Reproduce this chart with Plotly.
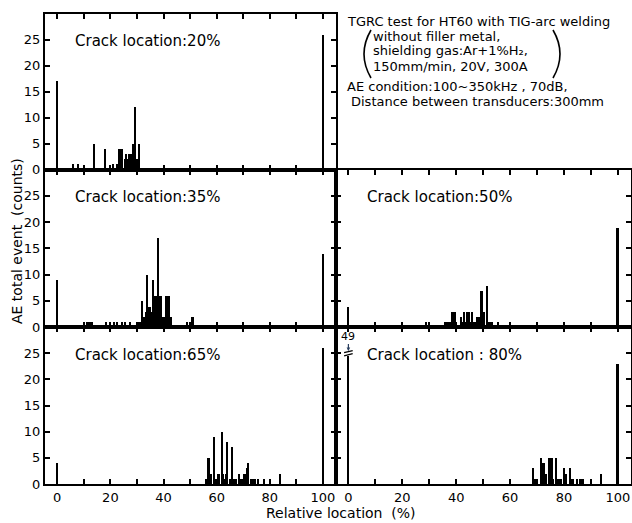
import plotly.graph_objects as go

# ---------------- data (relative location %, AE total event counts) ----------------
loc_20 = [0, 6, 8, 14, 18, 21, 22.5, 23.5, 24, 24.5, 25.5, 26, 26.5, 27, 27.5, 28, 28.5, 29, 29.5, 30, 30.5, 31, 100]
cnt_20 = [17, 1, 1, 5, 4, 1, 1, 4, 4, 4, 2, 3, 2, 3, 3, 3, 5, 5, 12, 2, 2, 5, 26]

loc_35 = [0, 11.5, 12, 13, 18.5, 21.5, 22.5, 24.5, 25.5, 27.5, 31, 31.5, 32, 32.5, 33, 33.5, 34, 34.5, 35, 35.5,
          36, 36.5, 37, 37.5, 38, 38.5, 39, 39.5, 40, 40.5, 41, 41.5, 42, 43, 49, 51, 100]
cnt_35 = [9, 1, 1, 1, 1, 1, 1, 1, 1, 1, 1, 1, 5, 2, 2, 3, 10, 4, 4, 3,
          9, 2, 6, 6, 17, 6, 6, 1, 2, 2, 6, 6, 6, 2, 1, 2, 14]

loc_50 = [0, 29, 36, 36.5, 37, 37.5, 38, 38.5, 39, 39.5, 40, 42, 42.5, 43, 43.5, 44, 44.5, 45, 45.5, 46,
          46.5, 47, 47.5, 48, 48.5, 49, 49.5, 50, 50.5, 51.5, 52, 52.5, 53, 53.5, 55.5, 100]
cnt_50 = [4, 1, 1, 1, 1, 1, 1, 3, 3, 3, 1, 2, 1, 3, 1, 3, 2, 3, 1, 3,
          1, 1, 1, 2, 2, 2, 7, 3, 3, 8, 1, 1, 1, 1, 1, 19]

loc_65 = [0, 56, 57, 57.5, 58, 59, 59.5, 60.5, 61, 62, 62.5, 63, 63.5, 64, 65, 65.5, 66, 66.5, 67, 67.5,
          68.5, 69, 69.5, 70.5, 71, 71.5, 72, 73, 73.5, 74, 74.5, 75.5, 78, 84, 100]
cnt_65 = [4, 1, 5, 2, 2, 9, 1, 2, 2, 10, 2, 1, 2, 8, 1, 1, 7, 1, 1, 1,
          2, 1, 1, 2, 2, 3, 4, 1, 1, 1, 1, 1, 1, 2, 26]

loc_80 = [0, 68.5, 69, 69.5, 70, 71.5, 72, 72.5, 73, 73.5, 74.5, 75, 75.5, 76, 77, 78, 78.5, 79, 80, 81,
          82.5, 83, 83.5, 85, 86, 87, 94, 100]
cnt_80 = [49, 3, 1, 1, 1, 5, 4, 4, 1, 2, 5, 5, 5, 1, 5, 1, 1, 1, 3, 2,
          3, 1, 1, 1, 1, 1, 2, 23]

crack_labels = ["Crack location:20%", "Crack location:35%", "Crack location:50%",
                "Crack location:65%", "Crack location : 80%"]

x_tick_vals = [0, 20, 40, 60, 80, 100]
x_tick_text = ["0", "20", "40", "60", "80", "100"]
y_tick_vals = [0, 5, 10, 15, 20, 25]
y_tick_text = ["0", "5", "10", "15", "20", "25"]

info_lines = [
    "TGRC test for HT60 with TIG-arc welding",
    "without filler metal,",
    "shielding gas:Ar+1%H₂,",
    "150mm/min, 20V, 300A",
    "AE condition:100~350kHz , 70dB,",
    "Distance between transducers:300mm",
]

BREAK_LEVEL = 24.5   # display cap for the broken (49 count) bar

# ---------------- layout helpers ----------------
W, H = 632, 523
FONT = "DejaVu Sans"


def px(x):
    return x / W


def py(y):
    return 1 - y / H


col_dom = [[px(45), px(336)], [px(336), px(631)]]
row_dom = [[py(169.5), py(14)], [py(327), py(169.5)], [py(484), py(327)]]

panels = [  # (axis index, row, col, locs, counts, label)
    (1, 0, 0, loc_20, cnt_20, crack_labels[0]),
    (2, 0, 1, None, None, None),
    (3, 1, 0, loc_35, cnt_35, crack_labels[1]),
    (4, 1, 1, loc_50, cnt_50, crack_labels[2]),
    (5, 2, 0, loc_65, cnt_65, crack_labels[3]),
    (6, 2, 1, loc_80, cnt_80, crack_labels[4]),
]

fig = go.Figure()
annotations = []
shapes = []

tick_font = dict(family=FONT, size=13, color="black")

for idx, row, col, locs, cnts, label in panels:
    sfx = "" if idx == 1 else str(idx)
    xa = dict(domain=col_dom[col], range=[-4.6, 104.9], anchor="y" + sfx, automargin=False,
              showline=True, linewidth=2, linecolor="black", mirror="ticks",
              ticks="inside", ticklen=5, tickwidth=1.5, tickcolor="black",
              tickvals=x_tick_vals, ticktext=x_tick_text,
              minor=dict(tickvals=[10, 30, 50, 70, 90], ticks="inside", ticklen=5,
                         tickwidth=1.5, tickcolor="black", showgrid=False),
              showticklabels=(row == 2), showgrid=False, zeroline=False,
              tickfont=tick_font, fixedrange=True)
    ya = dict(domain=row_dom[row], range=[0, 30], anchor="x" + sfx, automargin=False,
              showline=True, linewidth=2, linecolor="black", mirror="ticks",
              ticks="inside", ticklen=5, tickwidth=1.5, tickcolor="black",
              tickvals=y_tick_vals, ticktext=y_tick_text,
              showticklabels=(col == 0), showgrid=False, zeroline=False,
              tickfont=tick_font, fixedrange=True)
    fig.layout["xaxis" + sfx] = xa
    fig.layout["yaxis" + sfx] = ya
    if locs is not None:
        shown = [min(c, BREAK_LEVEL) if c > 30 else c for c in cnts]
        fig.add_trace(go.Bar(x=locs, y=shown, width=0.6, xaxis="x" + sfx, yaxis="y" + sfx,
                             marker=dict(color="black", line=dict(width=0)),
                             customdata=cnts, hovertemplate="%{x}%: %{customdata}<extra></extra>",
                             showlegend=False))
        annotations.append(dict(x=6, y=24.7, xref="x" + sfx, yref="y" + sfx, text=label,
                                showarrow=False, xanchor="left", yanchor="middle",
                                font=dict(family=FONT, size=15, color="black")))
        # broken bar marker for counts beyond the axis
        for lx, c in zip(locs, cnts):
            if c > 30:
                for yb in (BREAK_LEVEL + 0.2, BREAK_LEVEL + 0.8):
                    shapes.append(dict(type="line", xref="x" + sfx, yref="y" + sfx,
                                       x0=lx - 1.6, x1=lx + 1.6, y0=yb - 0.2, y1=yb + 0.2,
                                       line=dict(color="black", width=1.3)))
                annotations.append(dict(x=lx, y=BREAK_LEVEL + 0.9, xref="x" + sfx, yref="y" + sfx,
                                        text=str(c), showarrow=True, arrowhead=2, arrowsize=0.6,
                                        arrowwidth=1.2, ax=0, ay=-15, xanchor="center",
                                        font=dict(family=FONT, size=11, color="black")))

# info text in the top-right panel
info_pos = [(345, 21.7), (371, 36.2), (371, 50.5), (371, 66.0), (345, 87.0), (349, 101.7)]
for t, (x0, y0) in zip(info_lines, info_pos):
    annotations.append(dict(x=px(x0), y=py(y0), xref="paper", yref="paper", text=t,
                            showarrow=False, xanchor="left", yanchor="middle",
                            font=dict(family=FONT, size=13, color="black")))


def paren(xe, xm, y_top, y_bot):
    ym = (y_top + y_bot) / 2
    return f"M {px(xe)},{py(y_top)} Q {px(xm)},{py(ym)} {px(xe)},{py(y_bot)}"


shapes.append(dict(type="path", xref="paper", yref="paper", path=paren(371, 357, 30, 78),
                   line=dict(color="black", width=1.6)))
shapes.append(dict(type="path", xref="paper", yref="paper", path=paren(553, 567, 30, 78),
                   line=dict(color="black", width=1.6)))

# axis titles
annotations.append(dict(x=px(17), y=py(241), xref="paper", yref="paper",
                        xanchor="center", yanchor="middle",
                        text="AE total event  (counts)", textangle=-90, showarrow=False,
                        font=dict(family=FONT, size=14, color="black")))
annotations.append(dict(x=px(341), y=py(513), xref="paper", yref="paper",
                        xanchor="center", yanchor="middle",
                        text="Relative location  (%)", showarrow=False,
                        font=dict(family=FONT, size=14, color="black")))

fig.update_layout(width=W, height=H, margin=dict(l=0, r=0, t=0, b=0, autoexpand=False),
                  paper_bgcolor="white", plot_bgcolor="white",
                  bargap=0, barmode="overlay", showlegend=False,
                  annotations=annotations, shapes=shapes,
                  font=dict(family=FONT, color="black"))

fig.write_html("out.html", config={"displayModeBar": False},
               post_script="document.body.style.margin='0';document.body.style.overflow='hidden';")
